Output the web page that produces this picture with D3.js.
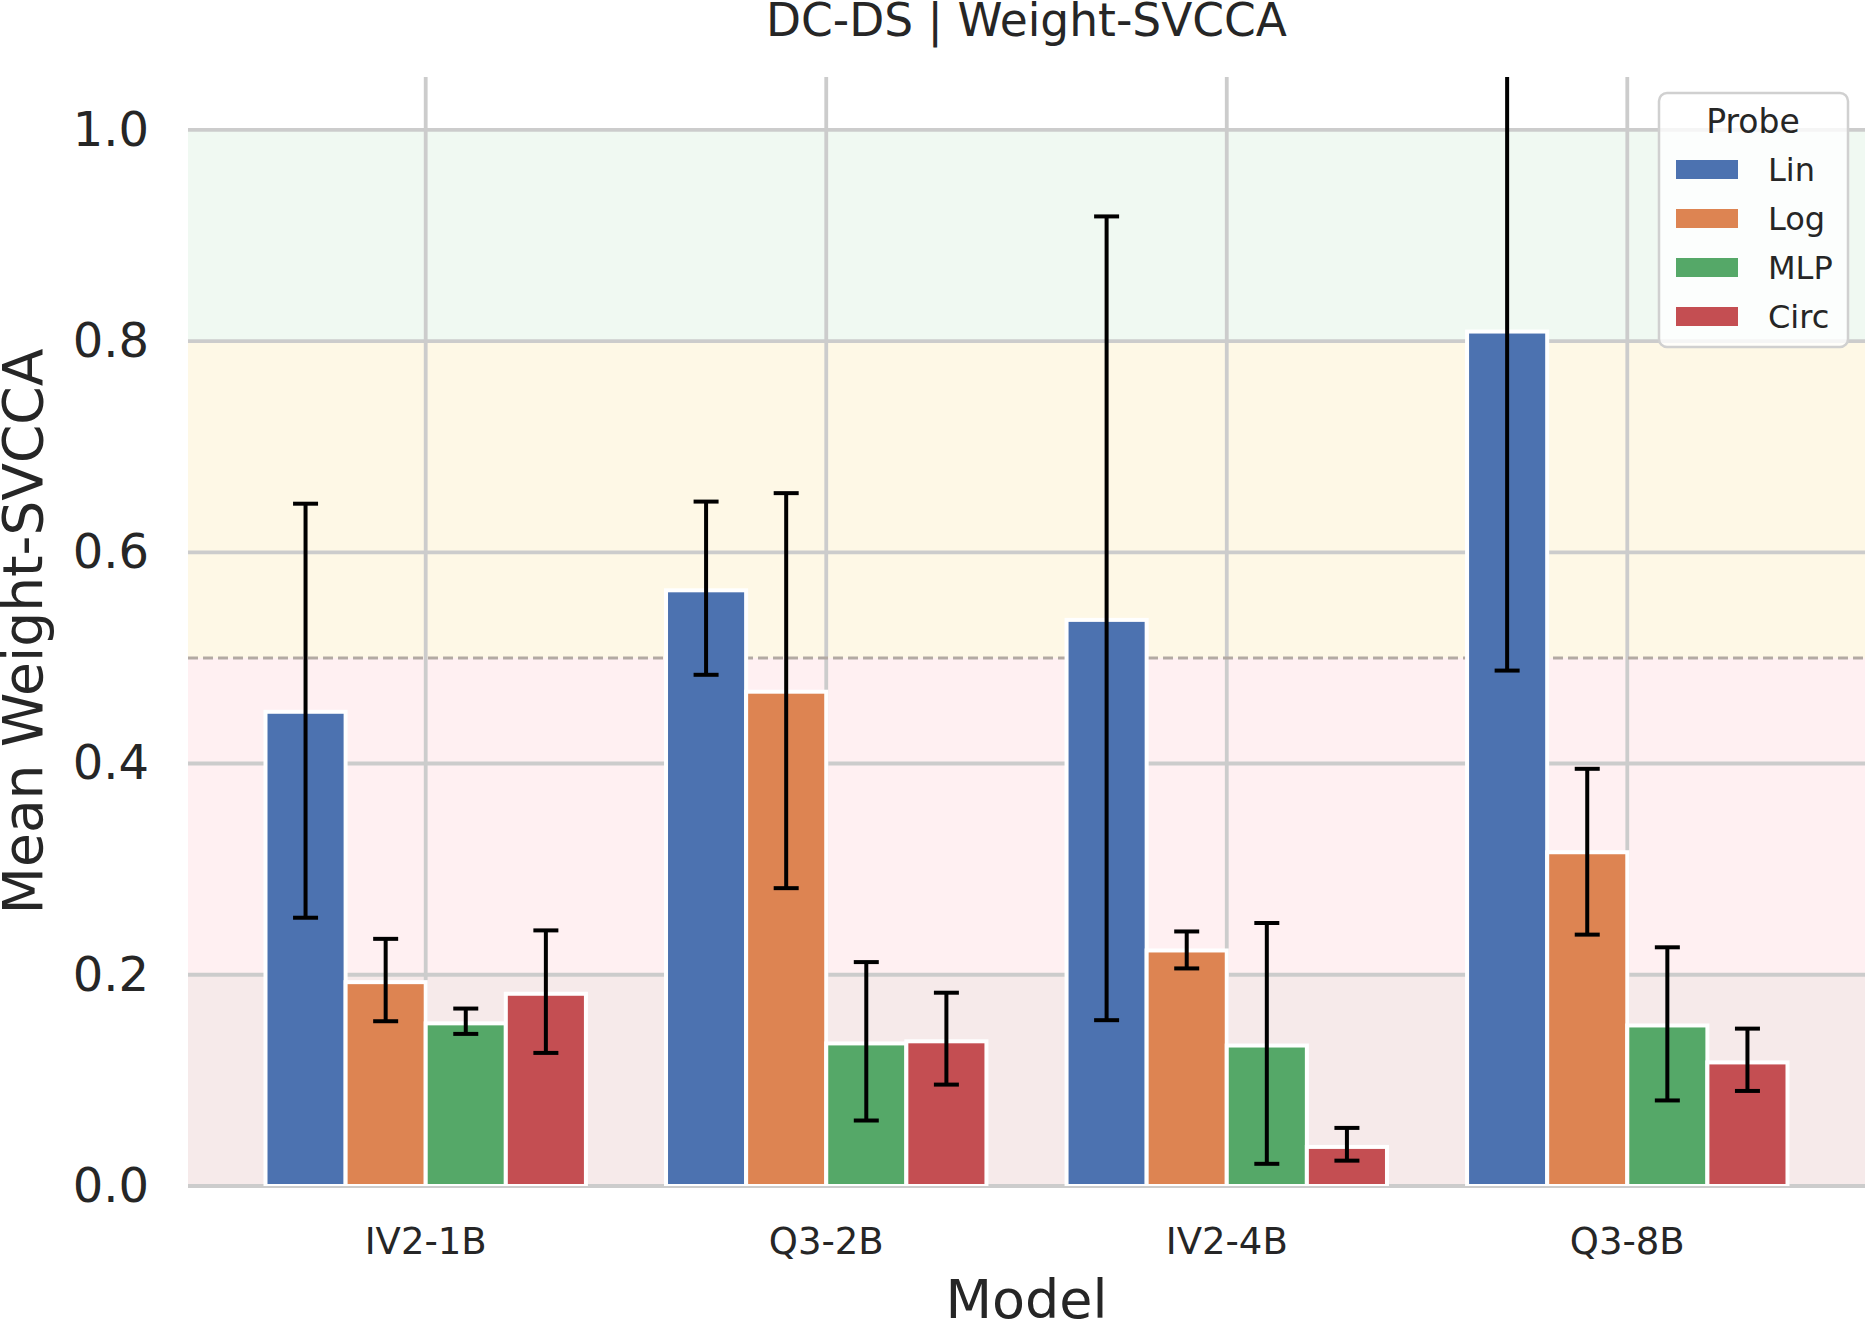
<!DOCTYPE html>
<html>
<head>
<meta charset="utf-8">
<script src="https://cdn.jsdelivr.net/npm/d3@7"></script>
<style>
	body { margin: 0; background: #fff; }
	text { font-family: "DejaVu Sans", sans-serif; fill: #262626; }
</style>
</head>
<body>
<div id="chart"></div>
<script>
// data
var models = ["IV2-1B", "Q3-2B", "IV2-4B", "Q3-8B"]
var probes = ["Lin", "Log", "MLP", "Circ"]

var linMean = [0.449, 0.564, 0.536, 0.809]
var logMean = [0.193, 0.468, 0.223, 0.316]
var mlpMean = [0.154, 0.135, 0.133, 0.152]
var circMean = [0.182, 0.137, 0.037, 0.117]

var linLo = [0.254, 0.484, 0.157, 0.488]
var linHi = [0.646, 0.648, 0.918, 1.130]
var logLo = [0.156, 0.282, 0.206, 0.238]
var logHi = [0.234, 0.656, 0.241, 0.395]
var mlpLo = [0.144, 0.062, 0.021, 0.081]
var mlpHi = [0.168, 0.212, 0.249, 0.226]
var circLo = [0.126, 0.096, 0.024, 0.090]
var circHi = [0.242, 0.183, 0.055, 0.149]

var yTicks = [0, 0.2, 0.4, 0.6, 0.8, 1.0]
var bandEdges = [0, 0.2, 0.5, 0.8, 1.0]
var threshold = 0.5

// colours
var probeColours = ["#4c72b0", "#dd8452", "#55a868", "#c44e52"]
var bandColours = ["#f6eaea", "#fff0f2", "#fef8e6", "#f0f9f2"]

var means = [linMean, logMean, mlpMean, circMean]
var los = [linLo, logLo, mlpLo, circLo]
var his = [linHi, logHi, mlpHi, circHi]

var rows = []
probes.forEach(function(p, i) {
	models.forEach(function(m, j) {
		rows.push({model: m, probe: p, mean: means[i][j], lo: los[i][j], hi: his[i][j]})
	})
})

var w = 1867, h = 1321
// plot box (window.top is taken, so prefixed names)
var pLeft = 188, pRight = 1865, pTop = 77, pBottom = 1186

var svg = d3.select("#chart")
	.append("svg")
	.attr("width", w)
	.attr("height", h)

var x = d3.scaleBand()
	.domain(models)
	.range([pLeft, pRight])
	.paddingInner(0.2)
	.paddingOuter(0.1935)

var xSub = d3.scaleBand()
	.domain(probes)
	.range([0, x.bandwidth()])

var y = d3.scaleLinear()
	.domain([0, 1.05])
	.range([pBottom, pTop])

var colour = d3.scaleOrdinal().domain(probes).range(probeColours)

svg.append("clipPath")
	.attr("id", "plotClip")
	.append("rect")
	.attr("x", pLeft)
	.attr("y", pTop)
	.attr("width", pRight - pLeft)
	.attr("height", pBottom - pTop)

// background bands
svg.append("g")
	.selectAll("rect")
	.data(d3.range(bandEdges.length - 1))
	.enter()
	.append("rect")
	.attr("x", pLeft)
	.attr("width", pRight - pLeft)
	.attr("y", function(i) {return y(bandEdges[i + 1])})
	.attr("height", function(i) {return y(bandEdges[i]) - y(bandEdges[i + 1])})
	.style("fill", function(i) {return bandColours[i]})

// grid
var grid = svg.append("g").style("stroke", "#cccccc").style("stroke-width", 3.8)

grid.selectAll(".yLine")
	.data(yTicks)
	.enter()
	.append("line")
	.classed("yLine", true)
	.attr("x1", pLeft)
	.attr("x2", pRight)
	.attr("y1", function(d) {return y(d)})
	.attr("y2", function(d) {return y(d)})

grid.selectAll(".xLine")
	.data(models)
	.enter()
	.append("line")
	.classed("xLine", true)
	.attr("x1", function(d) {return x(d) + x.bandwidth() / 2})
	.attr("x2", function(d) {return x(d) + x.bandwidth() / 2})
	.attr("y1", pTop)
	.attr("y2", pBottom)

svg.append("line")
	.attr("x1", pLeft)
	.attr("x2", pRight)
	.attr("y1", y(threshold))
	.attr("y2", y(threshold))
	.style("stroke", "#b3aaa3")
	.style("stroke-width", 3)
	.style("stroke-dasharray", "10,5")

// bars
var plotG = svg.append("g").attr("clip-path", "url(#plotClip)")

plotG.selectAll(".bar")
	.data(rows)
	.enter()
	.append("rect")
	.classed("bar", true)
	.attr("x", function(d) {return x(d.model) + xSub(d.probe)})
	.attr("width", xSub.bandwidth())
	.attr("y", function(d) {return y(d.mean)})
	.attr("height", function(d) {return y(0) - y(d.mean)})
	.style("fill", function(d) {return colour(d.probe)})
	.style("stroke", "#ffffff")
	.style("stroke-width", 4)

// error bars
var err = plotG.selectAll(".err")
	.data(rows)
	.enter()
	.append("g")
	.classed("err", true)
	.attr("transform", function(d) {return "translate(" + (x(d.model) + xSub(d.probe) + xSub.bandwidth() / 2) + ",0)"})
	.style("stroke", "#000000")
	.style("stroke-width", 4)

err.append("line")
	.attr("y1", function(d) {return y(d.lo)})
	.attr("y2", function(d) {return y(d.hi)})

err.append("line")
	.attr("x1", -12.5).attr("x2", 12.5)
	.attr("y1", function(d) {return y(d.lo)})
	.attr("y2", function(d) {return y(d.lo)})

err.append("line")
	.attr("x1", -12.5).attr("x2", 12.5)
	.attr("y1", function(d) {return y(d.hi)})
	.attr("y2", function(d) {return y(d.hi)})

// axes
var yAxis = svg.append("g")
	.attr("transform", "translate(" + pLeft + ",0)")
	.call(d3.axisLeft(y).tickValues(yTicks).tickFormat(d3.format(".1f")).tickSize(0).tickPadding(39))
yAxis.select(".domain").remove()
yAxis.selectAll("text").style("font-size", "48px").style("fill", "#262626")

var xAxis = svg.append("g")
	.attr("transform", "translate(0," + pBottom + ")")
	.call(d3.axisBottom(x).tickSize(0).tickPadding(42))
xAxis.select(".domain").remove()
xAxis.selectAll("text").style("font-size", "37px").style("fill", "#262626")

svg.append("text")
	.attr("x", (pLeft + pRight) / 2)
	.attr("y", 36)
	.attr("text-anchor", "middle")
	.style("font-size", "45.5px")
	.text("DC-DS | Weight-SVCCA")

svg.append("text")
	.attr("x", (pLeft + pRight) / 2)
	.attr("y", 1318)
	.attr("text-anchor", "middle")
	.style("font-size", "54px")
	.text("Model")

svg.append("text")
	.attr("transform", "translate(42," + (pTop + pBottom) / 2 + ") rotate(-90)")
	.attr("text-anchor", "middle")
	.style("font-size", "55px")
	.text("Mean Weight-SVCCA")

// legend
var legend = svg.append("g")

legend.append("rect")
	.attr("x", 1659)
	.attr("y", 93)
	.attr("width", 189)
	.attr("height", 254)
	.attr("rx", 8)
	.style("fill", "#ffffff")
	.style("fill-opacity", 0.8)
	.style("stroke", "#d0d0d0")
	.style("stroke-width", 2.5)

legend.append("text")
	.attr("x", 1753)
	.attr("y", 133)
	.attr("text-anchor", "middle")
	.style("font-size", "33px")
	.text("Probe")

var item = legend.selectAll(".item")
	.data(probes)
	.enter()
	.append("g")
	.classed("item", true)
	.attr("transform", function(d, i) {return "translate(0," + (169.5 + i * 49) + ")"})

item.append("rect")
	.attr("x", 1676)
	.attr("y", -9.5)
	.attr("width", 62)
	.attr("height", 19)
	.style("fill", function(d) {return colour(d)})

item.append("text")
	.attr("x", 1768)
	.attr("y", 11.5)
	.style("font-size", "32px")
	.text(function(d) {return d})
</script>
</body>
</html>
